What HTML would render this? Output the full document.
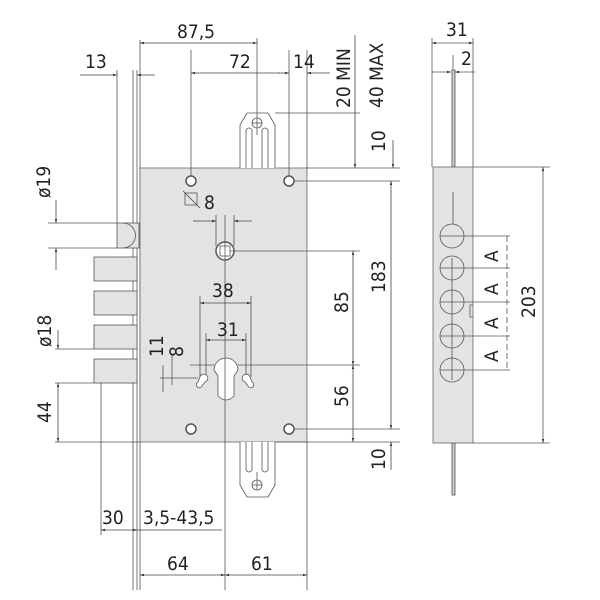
<!DOCTYPE html><html><head><style>body{margin:0;background:#fff}svg{display:block}text{font-family:"DejaVu Sans Condensed","Liberation Sans Narrow","Liberation Sans",sans-serif;fill:#222;font-size:19px}</style></head><body>
<svg width="600" height="600" viewBox="0 0 600 600" xmlns="http://www.w3.org/2000/svg">
<defs><marker id="a" viewBox="0 0 10 10" refX="10" refY="5" markerWidth="7" markerHeight="5" orient="auto-start-reverse"><path d="M0,2L10,5L0,8z" fill="#333"/></marker></defs>
<g stroke="#555" stroke-width="0.8" fill="none">
<line x1="133" y1="70" x2="133" y2="590"/><line x1="137" y1="70" x2="137" y2="590"/>
<line x1="140" y1="40" x2="140" y2="590"/>
<rect x="140" y="168" width="167" height="274" fill="#e3e3e3" stroke="#666"/>
<path d="M240,168V125L247,113H268L275,125V168" fill="#fff"/>
<path d="M246,168V130Q249,126 252,130V168M262,168V130Q265,126 268,130V168"/>
<circle cx="257" cy="123" r="5"/><line x1="252" y1="123" x2="262" y2="123"/>
<path d="M240,442V485L247,497H268L275,485V442" fill="#fff"/>
<path d="M246,442V470Q249,474 252,470V442M262,442V470Q265,474 268,470V442"/>
<circle cx="257" cy="485" r="5"/><line x1="252" y1="485" x2="262" y2="485"/><line x1="257" y1="472" x2="257" y2="490"/>
<g fill="#fff" stroke="#555" stroke-width="1.5"><circle cx="191" cy="181" r="5"/><circle cx="289" cy="181" r="5"/><circle cx="191" cy="429" r="5"/><circle cx="289" cy="429" r="5"/></g>
<circle cx="225" cy="251" r="9" fill="#fff" stroke-width="1.5"/><rect x="220" y="246" width="10" height="10"/>
<path d="M214,370A12,12 0 1 1 238,370L234,376V396Q226,404 218,396V376Z" fill="#fff"/>
<path d="M200,377a4,4 0 1 1 5,5l-3,4a3,3 0 1 1 -4,-4z" fill="#fff"/>
<path d="M250,377a4,4 0 1 0 -5,5l3,4a3,3 0 1 0 4,-4z" fill="#fff"/>
<rect x="117" y="223" width="22" height="25" fill="#e3e3e3"/><path d="M123,223A12,12 0 0 1 123,248"/>
<g fill="#e3e3e3"><rect x="94" y="257" width="43" height="24"/><rect x="94" y="291" width="43" height="24"/><rect x="94" y="325" width="43" height="24"/><rect x="94" y="359" width="43" height="24"/></g>
<line x1="191" y1="50" x2="191" y2="176"/><line x1="289" y1="50" x2="289" y2="176"/>
<line x1="307" y1="50" x2="307" y2="168"/><line x1="257" y1="38" x2="257" y2="135"/>
<line x1="117" y1="70" x2="117" y2="223"/>
<line x1="225" y1="215" x2="225" y2="590"/><line x1="307" y1="442" x2="307" y2="590"/>
<line x1="101" y1="383" x2="101" y2="535"/>
<line x1="275" y1="113" x2="360" y2="113"/><line x1="307" y1="168" x2="400" y2="168"/>
<line x1="294" y1="181" x2="400" y2="181"/><line x1="230" y1="251" x2="360" y2="251"/>
<line x1="238" y1="365" x2="360" y2="365"/><line x1="294" y1="429" x2="400" y2="429"/><line x1="275" y1="442" x2="400" y2="442"/>
<line x1="48" y1="223" x2="117" y2="223"/><line x1="48" y1="248" x2="117" y2="248"/>
<line x1="55" y1="349" x2="94" y2="349"/><line x1="55" y1="383" x2="94" y2="383"/><line x1="55" y1="442" x2="140" y2="442"/>
<line x1="190" y1="365" x2="214" y2="365"/><line x1="160" y1="378" x2="198" y2="378"/>
<line x1="200" y1="296" x2="200" y2="377"/><line x1="251" y1="296" x2="251" y2="377"/>
<line x1="206" y1="333" x2="206" y2="375"/><line x1="246" y1="333" x2="246" y2="375"/>
<line x1="172" y1="355" x2="172" y2="385"/><line x1="163" y1="365" x2="163" y2="392"/>
<line x1="216" y1="215" x2="216" y2="246"/><line x1="234" y1="215" x2="234" y2="246"/>
</g>
<g stroke="#444" stroke-width="0.8" fill="none">
<line x1="140" y1="43" x2="257" y2="43" marker-start="url(#a)" marker-end="url(#a)"/>
<line x1="191" y1="73" x2="257" y2="73" marker-start="url(#a)"/><line x1="257" y1="73" x2="280" y2="73"/>
<line x1="278" y1="73" x2="289" y2="73" marker-end="url(#a)"/><line x1="330" y1="73" x2="307" y2="73" marker-end="url(#a)"/>
<line x1="80" y1="75" x2="117" y2="75" marker-end="url(#a)"/><line x1="155" y1="75" x2="137" y2="75" marker-end="url(#a)"/>
<line x1="355" y1="35" x2="355" y2="168" marker-end="url(#a)"/>
<line x1="393" y1="140" x2="393" y2="168" marker-end="url(#a)"/>
<line x1="391" y1="181" x2="391" y2="429" marker-start="url(#a)" marker-end="url(#a)"/>
<line x1="353" y1="251" x2="353" y2="365" marker-start="url(#a)" marker-end="url(#a)"/>
<line x1="353" y1="365" x2="353" y2="442" marker-start="url(#a)" marker-end="url(#a)"/>
<line x1="391" y1="470" x2="391" y2="442" marker-end="url(#a)"/>
<line x1="56" y1="200" x2="56" y2="223" marker-end="url(#a)"/><line x1="56" y1="270" x2="56" y2="248" marker-end="url(#a)"/>
<line x1="58" y1="330" x2="58" y2="349" marker-end="url(#a)"/><line x1="58" y1="383" x2="58" y2="442" marker-start="url(#a)" marker-end="url(#a)"/>
<line x1="200" y1="303" x2="251" y2="303" marker-start="url(#a)" marker-end="url(#a)"/>
<line x1="206" y1="340" x2="246" y2="340" marker-start="url(#a)" marker-end="url(#a)"/>
<line x1="193" y1="221" x2="216" y2="221" marker-end="url(#a)"/><line x1="252" y1="221" x2="234" y2="221" marker-end="url(#a)"/>
<line x1="101" y1="530" x2="137" y2="530" marker-start="url(#a)" marker-end="url(#a)"/><line x1="137" y1="530" x2="222" y2="530"/>
<line x1="140" y1="575" x2="225" y2="575" marker-start="url(#a)" marker-end="url(#a)"/>
<line x1="225" y1="575" x2="307" y2="575" marker-start="url(#a)" marker-end="url(#a)"/>
<rect x="185" y="193" width="12" height="12" stroke="#555"/><line x1="183" y1="191" x2="200" y2="208"/>
</g>
<g stroke="#555" stroke-width="0.8" fill="none">
<line x1="432" y1="38" x2="432" y2="167"/><line x1="473" y1="38" x2="473" y2="167"/><line x1="453" y1="55" x2="453" y2="80"/>
<line x1="432" y1="43" x2="473" y2="43" marker-start="url(#a)" marker-end="url(#a)"/>
<line x1="432" y1="72" x2="451" y2="72" marker-end="url(#a)"/><line x1="475" y1="72" x2="455" y2="72" marker-end="url(#a)"/>
<rect x="452" y="70" width="3" height="97" fill="#ccc"/><rect x="452" y="443" width="3" height="52" fill="#ccc"/>
<rect x="433" y="167" width="40" height="276" fill="#e3e3e3" stroke="#666"/>
<line x1="453" y1="192" x2="453" y2="245"/><path d="M473,305h-3v12h3"/>
<g fill="#e3e3e3" stroke="#555"><circle cx="452" cy="236" r="12"/><circle cx="452" cy="268" r="12"/><circle cx="452" cy="302" r="12"/><circle cx="452" cy="336" r="12"/><circle cx="452" cy="370" r="12"/></g>
<g><line x1="440" y1="236" x2="510" y2="236"/><line x1="440" y1="268" x2="510" y2="268"/><line x1="440" y1="302" x2="510" y2="302"/><line x1="440" y1="336" x2="510" y2="336"/><line x1="440" y1="370" x2="510" y2="370"/>
<line x1="452" y1="258" x2="452" y2="380"/></g>
<line x1="473" y1="167" x2="550" y2="167"/><line x1="473" y1="443" x2="550" y2="443"/>
<line x1="507" y1="236" x2="507" y2="370" stroke-dasharray="6 3"/>
<line x1="543" y1="167" x2="543" y2="443" marker-start="url(#a)" marker-end="url(#a)"/>
</g>
<text x="177" y="38">87,5</text><text x="229" y="68">72</text><text x="293" y="68">14</text><text x="85" y="68">13</text>
<text transform="translate(350,108) rotate(-90)">20 MIN</text><text transform="translate(383,108) rotate(-90)">40 MAX</text>
<text transform="translate(385,152) rotate(-90)">10</text><text transform="translate(385,470) rotate(-90)">10</text>
<text transform="translate(385,293) rotate(-90)">183</text><text transform="translate(348,313) rotate(-90)">85</text><text transform="translate(348,407) rotate(-90)">56</text>
<text transform="translate(50,198) rotate(-90)">ø19</text><text transform="translate(51,347) rotate(-90)">ø18</text><text transform="translate(51,423) rotate(-90)">44</text>
<text transform="translate(163,357) rotate(-90)">11</text><text transform="translate(183,357) rotate(-90)">8</text>
<text x="204" y="209">8</text><text x="212" y="297">38</text><text x="217" y="336">31</text>
<text x="102" y="524">30</text><text x="143" y="524">3,5-43,5</text><text x="167" y="570">64</text><text x="251" y="570">61</text>
<text x="446" y="36">31</text><text x="461" y="65">2</text>
<text transform="translate(498,262) rotate(-90)">A</text><text transform="translate(498,295) rotate(-90)">A</text><text transform="translate(498,329) rotate(-90)">A</text><text transform="translate(498,362) rotate(-90)">A</text>
<text transform="translate(535,318) rotate(-90)">203</text>
</svg></body></html>
